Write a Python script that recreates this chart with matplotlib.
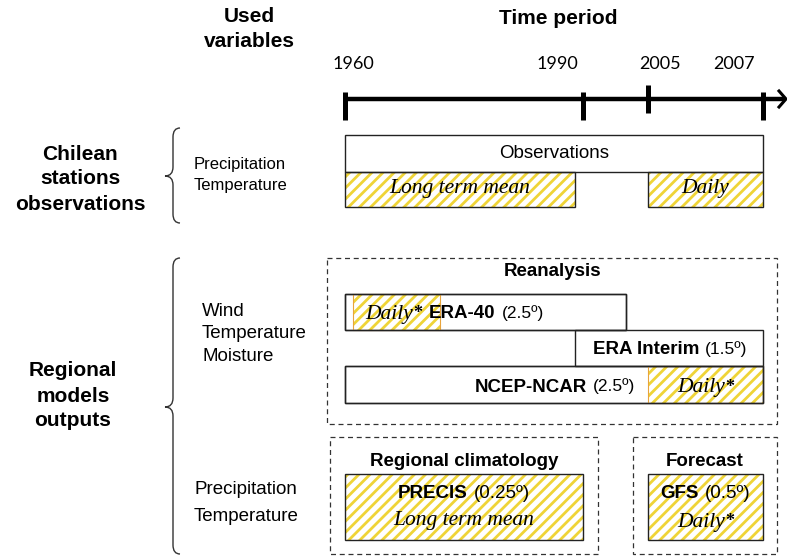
import numpy as np
import matplotlib
matplotlib.use('Agg')
import matplotlib.pyplot as plt
from matplotlib.patches import Rectangle, PathPatch
from matplotlib.path import Path

plt.rcParams['font.family'] = ['Liberation Sans', 'DejaVu Sans']
plt.rcParams['hatch.linewidth'] = 2.0

# time axis (non linear in the original drawing)
years = [1960, 1990, 2005, 2007]
year_labels = ['1960', '1990', '2005', '2007']

# periods covered by each dataset (start, end)
obs_span = (1960, 2007)
obs_ltm = (1960, 1989)
obs_daily = (2005, 2007)
era40_span = (1960, 2000)
era40_daily = (1961, 1972)
interim_span = (1989, 2007)
ncep_span = (1960, 2007)
ncep_daily = (2005, 2007)
precis_span = (1960, 1990)
gfs_span = (2005, 2007)

# layout / style
W, H = 787, 556
tick_px = [345, 583, 648, 763]
label_px = [353, 557, 660, 734]
YELLOW = '#EFD437'
EDGE = '#222222'
ORANGE = '#E8A43C'
SERIF = ['Liberation Serif', 'DejaVu Serif']


def tx(year):
    return float(np.interp(year, years, tick_px))


fig = plt.figure(figsize=(W / 100, H / 100), dpi=100)
ax = fig.add_axes([0, 0, 1, 1])
ax.set_xlim(0, W)
ax.set_ylim(H, 0)
ax.axis('off')
renderer = fig.canvas.get_renderer()


def box(span, y0, y1, hatched=False, edge=EDGE, lw=1.0):
    x0, x1 = tx(span[0]), tx(span[1])
    if hatched:
        ax.add_patch(Rectangle((x0, y0), x1 - x0, y1 - y0, facecolor='white',
                               edgecolor=YELLOW, lw=0, hatch='///', zorder=1))
    else:
        ax.add_patch(Rectangle((x0, y0), x1 - x0, y1 - y0, facecolor='white',
                               edgecolor='none', zorder=0.5))
    if edge:
        ax.add_patch(Rectangle((x0, y0), x1 - x0, y1 - y0, fill=False,
                               edgecolor=edge, lw=lw, zorder=2))


def dashed(x0, y0, x1, y1):
    ax.add_patch(Rectangle((x0, y0), x1 - x0, y1 - y0, fill=False, edgecolor='#333333',
                           lw=0.9, ls=(0, (4, 3)), zorder=2))


def rich(x, y, pieces, ha='center'):
    # pieces: list of (text, kwargs, gap after in px)
    texts, widths, gaps = [], [], []
    for s, kw, g in pieces:
        t = ax.text(0, y, s, ha='left', va='center_baseline', zorder=3, **kw)
        texts.append(t)
        widths.append(t.get_window_extent(renderer).width)
        gaps.append(g)
    total = sum(widths) + sum(gaps[:-1])
    start = {'center': x - total / 2, 'left': x, 'right': x - total}[ha]
    for t, w, g in zip(texts, widths, gaps):
        t.set_x(start)
        start += w + g


BOLD = dict(fontsize=13.5, fontweight='bold')
RES = dict(fontsize=12.5)
ITAL = dict(fontsize=15.5, fontstyle='italic', family=SERIF)
STAR = dict(fontsize=13, fontweight='bold', family=SERIF)


def daily_star(x, y, ha='center'):
    rich(x, y, [('Daily', ITAL, 0), ('*', STAR, 0)], ha=ha)


# ---- headers
ax.text(249, 29, 'Used\nvariables', ha='center', va='center', fontsize=15,
        fontweight='bold', linespacing=1.4)
ax.text(558, 18, 'Time period', ha='center', va='center', fontsize=15, fontweight='bold')

# ---- timeline
ax.plot([tx(years[0]), 785], [99, 99], color='black', lw=3.2, solid_capstyle='butt')
for yr, lx, lab in zip(years, label_px, year_labels):
    raise_ = 7 if yr == 2005 else 0
    ax.plot([tx(yr), tx(yr)], [92 - raise_, 120 - raise_], color='black', lw=3.6,
            solid_capstyle='butt')
    ax.text(lx, 64, lab, ha='center', va='center', fontsize=13, family=['Lato', 'DejaVu Sans'])
ax.plot([779, 786, 779], [91, 99, 107], color='black', lw=2.2, solid_joinstyle='miter')

# ---- left side labels and braces
def brace(x_right, y_top, y_bot, y_tip, x_mid=173, x_tip=165, r=9):
    verts = [(x_right, y_top), (x_mid, y_top), (x_mid, y_top + r),
             (x_mid, y_tip - r), (x_mid, y_tip), (x_tip, y_tip),
             (x_mid, y_tip), (x_mid, y_tip + r),
             (x_mid, y_bot - r), (x_mid, y_bot), (x_right, y_bot)]
    codes = [Path.MOVETO, Path.CURVE3, Path.CURVE3, Path.LINETO, Path.CURVE3, Path.CURVE3,
             Path.CURVE3, Path.CURVE3, Path.LINETO, Path.CURVE3, Path.CURVE3]
    ax.add_patch(PathPatch(Path(verts, codes), fill=False, edgecolor='#333333', lw=1.0))


ax.text(80, 179, 'Chilean\nstations\nobservations', ha='center', va='center',
        fontsize=15, fontweight='bold', linespacing=1.4)
brace(180, 128, 223, 176)
ax.text(194, 175, 'Precipitation\nTemperature', ha='left', va='center', fontsize=12,
        linespacing=1.55)

ax.text(73, 396, 'Regional\nmodels\noutputs', ha='center', va='center',
        fontsize=15, fontweight='bold', linespacing=1.4)
brace(180, 258, 554, 407)
ax.text(202, 334, 'Wind\nTemperature\nMoisture', ha='left', va='center', fontsize=13.5,
        linespacing=1.45)
ax.text(194, 503, 'Precipitation\nTemperature', ha='left', va='center', fontsize=13.5,
        linespacing=1.75)

# ---- observations
box(obs_span, 135, 172)
box(obs_ltm, 172, 207, hatched=True)
box(obs_daily, 172, 207, hatched=True)
ax.text((tx(obs_span[0]) + tx(obs_span[1])) / 2, 153, 'Observations', ha='center',
        va='center', fontsize=13.5, zorder=3)
ax.text((tx(obs_ltm[0]) + tx(obs_ltm[1])) / 2, 189, 'Long term mean', ha='center',
        va='center', zorder=3, **ITAL)
ax.text((tx(obs_daily[0]) + tx(obs_daily[1])) / 2, 189, 'Daily', ha='center',
        va='center', zorder=3, **ITAL)

# ---- reanalysis
dashed(327, 258, 777, 424)
ax.text(553, 272, 'Reanalysis', ha='center', va='center', fontsize=13.5, fontweight='bold')
box(era40_span, 294, 330)
box(era40_daily, 294, 330, hatched=True, edge=ORANGE, lw=0.8)
box(era40_span, 294, 330, hatched=False)
box(interim_span, 330, 366)
box(ncep_span, 366, 403)
box(ncep_daily, 366, 403, hatched=True, edge=ORANGE, lw=0.8)
box(ncep_span, 366, 403)

daily_star(422, 312, ha='right')
rich(429, 312, [('ERA-40', BOLD, 6), ('(2.5º)', RES, 0)], ha='left')
rich(670, 348, [('ERA Interim', BOLD, 6), ('(1.5º)', RES, 0)])
rich(635, 385, [('NCEP-NCAR', BOLD, 6), ('(2.5º)', RES, 0)], ha='right')
daily_star((tx(ncep_daily[0]) + tx(ncep_daily[1])) / 2, 385)

# ---- regional climatology and forecast
dashed(330, 437, 598, 554)
ax.text(464, 462, 'Regional climatology', ha='center', va='center', fontsize=13.5,
        fontweight='bold')
box(precis_span, 474, 540, hatched=True)
px = (tx(precis_span[0]) + tx(precis_span[1])) / 2
rich(px, 492, [('PRECIS', BOLD, 6), ('(0.25º)', dict(fontsize=13.5), 0)])
ax.text(px, 520, 'Long term mean', ha='center', va='center', zorder=3, **ITAL)

dashed(633, 437, 777, 554)
ax.text(705, 462, 'Forecast', ha='center', va='center', fontsize=13.5, fontweight='bold')
box(gfs_span, 474, 540, hatched=True)
gx = (tx(gfs_span[0]) + tx(gfs_span[1])) / 2
rich(gx, 492, [('GFS', BOLD, 6), ('(0.5º)', dict(fontsize=13.5), 0)])
daily_star(gx, 520)

fig.savefig('out.png', dpi=100)
